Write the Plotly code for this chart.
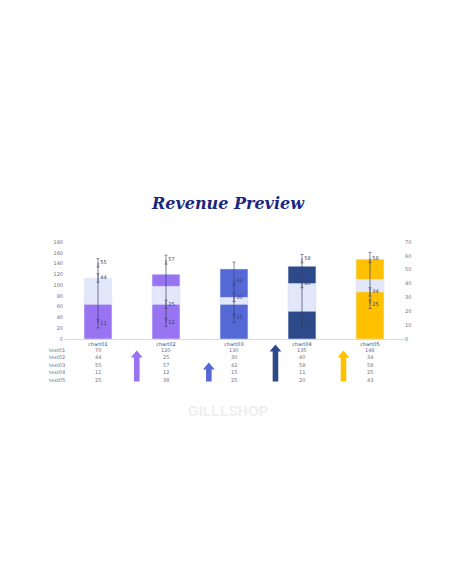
import numpy as np
import plotly.graph_objects as go

categories = ["chart01", "chart02", "chart03", "chart04", "chart05"]
row_names = ["text01", "text02", "text03", "text04", "text05"]

text01 = [70, 120, 130, 135, 148]
text02 = [44, 25, 30, 40, 34]
text03 = [55, 57, 42, 58, 58]
text04 = [11, 12, 15, 11, 25]
text05 = [25, 38, 25, 20, 43]
text03_err = [3, 3.5, 13.5, 3, 4.5]

bar_colors = ["#9873F2", "#9873F2", "#5468D6", "#2C4A8A", "#FFC000"]
band_color = "#E3E7FA"
ink = "#3A3F66"
tick_col = "#6B6F8A"

# up/down band between text02 and text05 (right axis)
lo = np.minimum(text02, text05)
hi = np.maximum(text02, text05)

fig = go.Figure()

fig.add_trace(go.Bar(x=categories, y=text01, marker_color=bar_colors,
                     width=0.41, yaxis="y", showlegend=False))
fig.add_trace(go.Bar(x=categories, y=hi - lo, base=lo, marker_color=band_color,
                     width=0.41, yaxis="y2", showlegend=False))

# high-low line text04 -> text03
hl_x, hl_y = [], []
for c, a, b in zip(categories, text04, text03):
    hl_x += [c, c, None]
    hl_y += [a, b, None]
fig.add_trace(go.Scatter(x=hl_x, y=hl_y, mode="lines", yaxis="y2",
                         line=dict(color=ink, width=0.7), showlegend=False))

for vals, err in [(text03, dict(type="data", array=text03_err, arrayminus=[3] * 5)),
                  (text02, dict(type="constant", value=3)),
                  (text04, dict(type="constant", value=3))]:
    fig.add_trace(go.Scatter(
        x=categories, y=vals, yaxis="y2", mode="markers+text",
        marker=dict(size=2, color="rgba(0,0,0,0)"),
        text=[str(v) for v in vals], textposition="middle right",
        textfont=dict(size=5, color=ink, family="DejaVu Sans"),
        error_y=dict(err, color=ink, thickness=0.6, width=1.5),
        cliponaxis=False, showlegend=False))

annotations = []
table = [text01, text02, text03, text04, text05]
for i, (name, row) in enumerate(zip(row_names, table)):
    dy = -10.9 - 7.5 * i
    annotations.append(dict(x=0, xref="paper", y=0, yref="paper", xanchor="left",
                            yanchor="middle", xshift=-17, yshift=dy, text=name,
                            showarrow=False, font=dict(size=5, color=tick_col)))
    for c, v in zip(categories, row):
        annotations.append(dict(x=c, xref="x", y=0, yref="paper", xanchor="center",
                                yanchor="middle", yshift=dy, text=str(v),
                                showarrow=False, font=dict(size=5, color=tick_col)))

annotations.append(dict(x=0.5, xref="paper", y=0, yref="paper", xshift=-6, yshift=-71.7,
                        yanchor="middle", text="<b>GILLLSHOP</b>", showarrow=False,
                        font=dict(size=14, color="#EFEFEF", family="Liberation Sans")))

annotations.append(dict(x=0.5, xref="paper", y=1, yref="paper", xshift=-6, yshift=38.7,
                        text="Revenue Preview", showarrow=False, yanchor="middle",
                        font=dict(size=16, color="#1A2680", family="DejaVu Serif",
                                  style="italic", weight="bold")))

# decorative block arrows between columns
arrows = [(0.57, 31, "#9873F2"), (1.63, 19, "#5468D6"),
          (2.61, 37, "#2C4A8A"), (3.61, 31, "#FFC000")]
shapes = []
for xpos, h, col in arrows:
    b = -42.4
    t = b + h
    path = (f"M -2.8 {b} L 2.8 {b} L 2.8 {t - 7} L 5.9 {t - 7} L 0 {t} "
            f"L -5.9 {t - 7} L -2.8 {t - 7} Z")
    shapes.append(dict(type="path", xref="x", yref="paper", xsizemode="pixel",
                       ysizemode="pixel", xanchor=xpos, yanchor=0, path=path,
                       fillcolor=col, line=dict(width=0)))

fig.update_layout(
    width=448, height=578, autosize=False,
    margin=dict(l=56, r=51.5, t=233.7, b=246.7),
    paper_bgcolor="white", plot_bgcolor="white",
    barmode="overlay",
    font=dict(family="DejaVu Sans", size=5, color=tick_col),
    xaxis=dict(showline=True, linecolor="#D9D9D9", linewidth=0.8, ticks="",
               tickfont=dict(size=5, color=ink), showgrid=False),
    yaxis=dict(range=[0, 180], dtick=20, showgrid=False, zeroline=False,
               tickfont=dict(size=5, color=tick_col)),
    yaxis2=dict(range=[0, 70], dtick=10, overlaying="y", side="right",
                showgrid=False, zeroline=False, tickfont=dict(size=5, color=tick_col)),
    annotations=annotations, shapes=shapes,
)

fig.write_html("out.html")
